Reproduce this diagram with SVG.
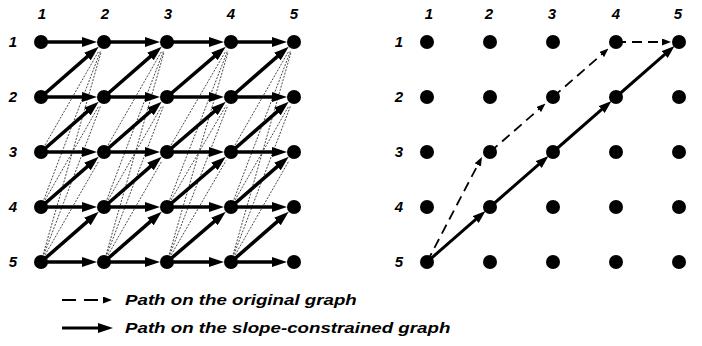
<svg xmlns="http://www.w3.org/2000/svg" width="702" height="346" viewBox="0 0 702 346">
<style>
.lbl{font-family:"Liberation Sans",Arial,sans-serif;font-weight:bold;font-style:italic;font-size:15px;fill:#000;text-anchor:middle}
.leg{font-family:"Liberation Sans",Arial,sans-serif;font-weight:bold;font-style:italic;font-size:15.5px;fill:#000}
.sol{stroke:#000;stroke-width:3.5;fill:none;marker-end:url(#big)}
.sol2{stroke:#000;stroke-width:3;fill:none;marker-end:url(#mid)}
.dsh{stroke:#000;stroke-width:1.8;fill:none;stroke-dasharray:10 6;marker-end:url(#small)}
.dot{stroke:#333;stroke-width:0.9;fill:none;stroke-dasharray:2 1.4}
.nd{fill:#000}
</style>
<defs>
<marker id="big" viewBox="0 0 15 10" refX="7" refY="5" markerWidth="15" markerHeight="10" markerUnits="userSpaceOnUse" orient="auto"><path d="M0,0L15,5L0,10z" fill="#000"/></marker>
<marker id="mid" viewBox="0 0 13 9" refX="5" refY="4.5" markerWidth="13" markerHeight="9" markerUnits="userSpaceOnUse" orient="auto"><path d="M0,0L13,4.5L0,9z" fill="#000"/></marker>
<marker id="small" viewBox="0 0 9 7" refX="5" refY="3.5" markerWidth="9" markerHeight="7" markerUnits="userSpaceOnUse" orient="auto"><path d="M0,0L9,3.5L0,7z" fill="#000"/></marker>
</defs>

<g id="labels">
<text class="lbl" x="42" y="19">1</text><text class="lbl" x="105" y="19">2</text><text class="lbl" x="168" y="19">3</text><text class="lbl" x="231" y="19">4</text><text class="lbl" x="294" y="19">5</text>
<text class="lbl" x="13" y="47">1</text><text class="lbl" x="13" y="102">2</text><text class="lbl" x="13" y="157">3</text><text class="lbl" x="13" y="212">4</text><text class="lbl" x="13" y="267">5</text>
<text class="lbl" x="429" y="19">1</text><text class="lbl" x="489" y="19">2</text><text class="lbl" x="552" y="19">3</text><text class="lbl" x="616" y="19">4</text><text class="lbl" x="678" y="19">5</text>
<text class="lbl" x="399" y="47">1</text><text class="lbl" x="399" y="102">2</text><text class="lbl" x="399" y="157">3</text><text class="lbl" x="399" y="212">4</text><text class="lbl" x="399" y="267">5</text>
</g>

<g id="connectors">
<g id="dotted">
<path class="dot" d="M45 145.1L99 50.7M45 200.1L99 105.7M45 255.1L99 160.7M43.9 199.5L100.4 51.3M43.9 254.5L100.4 106.3M43.2 254.3L101.2 51.6"/>
<path class="dot" d="M108 145.1L162 50.7M108 200.1L162 105.7M108 255.1L162 160.7M106.9 199.5L163.4 51.3M106.9 254.5L163.4 106.3M106.2 254.3L164.2 51.6"/>
<path class="dot" d="M171 145.1L226 50.7M171 200.1L226 105.7M171 255.1L226 160.7M169.9 199.5L227.4 51.3M169.9 254.5L227.4 106.3M169.2 254.3L228.2 51.6"/>
<path class="dot" d="M235 145.1L289 50.7M235 200.1L289 105.7M235 255.1L289 160.7M233.9 199.5L290.4 51.3M233.9 254.5L290.4 106.3M233.2 254.3L291.2 51.6"/>
</g>
<g id="horizontal">
<path class="sol" d="M41 42H89"/><path class="sol" d="M104 42H152"/><path class="sol" d="M167 42H216"/><path class="sol" d="M231 42H279"/>
<path class="sol" d="M41 97H89"/><path class="sol" d="M104 97H152"/><path class="sol" d="M167 97H216"/><path class="sol" d="M231 97H279"/>
<path class="sol" d="M41 152H89"/><path class="sol" d="M104 152H152"/><path class="sol" d="M167 152H216"/><path class="sol" d="M231 152H279"/>
<path class="sol" d="M41 207H89"/><path class="sol" d="M104 207H152"/><path class="sol" d="M167 207H216"/><path class="sol" d="M231 207H279"/>
<path class="sol" d="M41 262H89"/><path class="sol" d="M104 262H152"/><path class="sol" d="M167 262H216"/><path class="sol" d="M231 262H279"/>
</g>
<g id="diagonal">
<path class="sol" d="M41 97L92.7 51.9"/><path class="sol" d="M104 97L155.7 51.9"/><path class="sol" d="M167 97L219.7 51.9"/><path class="sol" d="M231 97L282.7 51.9"/>
<path class="sol" d="M41 152L92.7 106.9"/><path class="sol" d="M104 152L155.7 106.9"/><path class="sol" d="M167 152L219.7 106.9"/><path class="sol" d="M231 152L282.7 106.9"/>
<path class="sol" d="M41 207L92.7 161.9"/><path class="sol" d="M104 207L155.7 161.9"/><path class="sol" d="M167 207L219.7 161.9"/><path class="sol" d="M231 207L282.7 161.9"/>
<path class="sol" d="M41 262L92.7 216.9"/><path class="sol" d="M104 262L155.7 216.9"/><path class="sol" d="M167 262L219.7 216.9"/><path class="sol" d="M231 262L282.7 216.9"/>
</g>
<g id="path-original">
<path class="dsh" d="M427 262L480.1 160.5"/>
<path class="dsh" d="M490 152L542.5 106.2"/>
<path class="dsh" d="M553 97L605.5 51.2"/>
<path class="dsh" d="M616 42H667"/>
</g>
<g id="path-constrained">
<path class="sol2" d="M427 262L479.5 216.2"/>
<path class="sol2" d="M490 207L542.5 161.2"/>
<path class="sol2" d="M553 152L605.5 106.2"/>
<path class="sol2" d="M616 97L668.5 51.2"/>
</g>
</g>

<g id="left-nodes" class="nd">
<circle cx="41" cy="42" r="7"/><circle cx="104" cy="42" r="7"/><circle cx="167" cy="42" r="7"/><circle cx="231" cy="42" r="7"/><circle cx="294" cy="42" r="7"/>
<circle cx="41" cy="97" r="7"/><circle cx="104" cy="97" r="7"/><circle cx="167" cy="97" r="7"/><circle cx="231" cy="97" r="7"/><circle cx="294" cy="97" r="7"/>
<circle cx="41" cy="152" r="7"/><circle cx="104" cy="152" r="7"/><circle cx="167" cy="152" r="7"/><circle cx="231" cy="152" r="7"/><circle cx="294" cy="152" r="7"/>
<circle cx="41" cy="207" r="7"/><circle cx="104" cy="207" r="7"/><circle cx="167" cy="207" r="7"/><circle cx="231" cy="207" r="7"/><circle cx="294" cy="207" r="7"/>
<circle cx="41" cy="262" r="7"/><circle cx="104" cy="262" r="7"/><circle cx="167" cy="262" r="7"/><circle cx="231" cy="262" r="7"/><circle cx="294" cy="262" r="7"/>
</g>
<g id="right-nodes" class="nd">
<circle cx="427" cy="42" r="7"/><circle cx="490" cy="42" r="7"/><circle cx="553" cy="42" r="7"/><circle cx="616" cy="42" r="7"/><circle cx="679" cy="42" r="7"/>
<circle cx="427" cy="97" r="7"/><circle cx="490" cy="97" r="7"/><circle cx="553" cy="97" r="7"/><circle cx="616" cy="97" r="7"/><circle cx="679" cy="97" r="7"/>
<circle cx="427" cy="152" r="7"/><circle cx="490" cy="152" r="7"/><circle cx="553" cy="152" r="7"/><circle cx="616" cy="152" r="7"/><circle cx="679" cy="152" r="7"/>
<circle cx="427" cy="207" r="7"/><circle cx="490" cy="207" r="7"/><circle cx="553" cy="207" r="7"/><circle cx="616" cy="207" r="7"/><circle cx="679" cy="207" r="7"/>
<circle cx="427" cy="262" r="7"/><circle cx="490" cy="262" r="7"/><circle cx="553" cy="262" r="7"/><circle cx="616" cy="262" r="7"/><circle cx="679" cy="262" r="7"/>
</g>

<g id="legend">
<path d="M62 300H108" stroke="#000" stroke-width="1.8" fill="none" stroke-dasharray="14 8 14 12" marker-end="url(#small)"/>
<path d="M62 328H105" stroke="#000" stroke-width="3" fill="none" marker-end="url(#big)"/>
<g transform="translate(125,0) scale(1.208,1)">
<text class="leg" x="0" y="305.5">Path on the original graph</text>
<text class="leg" x="0" y="333.5">Path on the slope-constrained graph</text>
</g>
</g>
</svg>
